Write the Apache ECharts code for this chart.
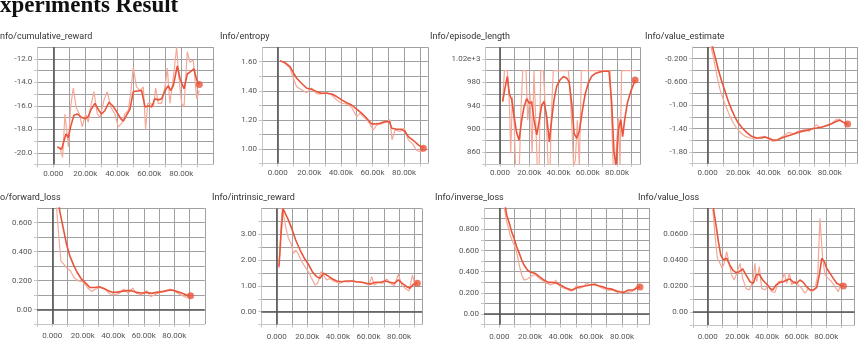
<!DOCTYPE html>
<html><head><meta charset="utf-8">
<script src="https://cdn.jsdelivr.net/npm/echarts@6/dist/echarts.min.js"></script>
<style>html,body{margin:0;padding:0;background:#fff}#c{width:863px;height:350px}</style>
</head><body><div id="c"></div>
<script>
// steps are in thousands
const rewardSmooth = [[2.5,-19.5],[5.2,-19.7],[7.9,-18.4],[9.4,-18.7],[10.8,-17.8],[12.9,-16.8],[15,-16.7],[17.7,-17.0],[20.2,-17.1],[21.9,-16.9],[23.3,-16.4],[26,-15.8],[28.5,-16.4],[30.2,-16.7],[32.3,-16.4],[34.8,-15.7],[37.1,-16.0],[39.6,-16.5],[42.1,-17.1],[43.8,-17.3],[45.8,-16.8],[47.9,-16.3],[50,-14.8],[52.5,-14.75],[55.2,-14.7],[57.3,-16.1],[59.8,-16.0],[61.5,-16.1],[63.5,-15.4],[65.6,-15.5],[67.7,-15.4],[69.8,-14.7],[71.9,-14.3],[73.3,-14.7],[75,-14.3],[77.5,-12.6],[79.2,-13.7],[81.7,-14.55],[83.75,-13.3],[85.8,-13.1],[87.9,-12.85],[89.6,-13.8],[91.25,-14.2]];
const rewardRaw = [[2.5,-19.5],[4.2,-19.6],[5.8,-20.4],[7.3,-16.7],[9.4,-19.5],[10.8,-16.1],[12.5,-14.5],[14.2,-16.1],[16.3,-16.7],[18.1,-17.8],[20.2,-16.7],[21.9,-17.4],[23.3,-16.1],[25.4,-14.8],[27.5,-16.7],[29.2,-17.0],[31.7,-15.5],[33.75,-14.8],[35.8,-16.1],[38.5,-16.7],[40.6,-17.8],[42.7,-17.5],[44.8,-16.7],[46.9,-16.4],[48.3,-15.0],[50,-12.7],[52,-14.4],[54.2,-14.7],[56.25,-14.4],[57.7,-18.0],[59,-15.8],[60.8,-15.8],[62.5,-16.1],[64,-14.5],[65.6,-15.8],[67.7,-15.8],[69.8,-14.4],[71.25,-12.8],[72.9,-15.8],[75,-13.6],[77.1,-11.0],[78.5,-13.6],[80.2,-15.8],[81.7,-16.1],[83.75,-11.4],[85.4,-12.3],[87.5,-12.1],[89.6,-15.4],[91.25,-14.7]];

const entropySmooth = [[1.5,1.607],[4.6,1.593],[7.8,1.566],[9.9,1.524],[12,1.486],[15.2,1.45],[18.4,1.417],[21.5,1.41],[24.7,1.394],[27.8,1.383],[31,1.383],[34.2,1.378],[37.3,1.36],[40.5,1.337],[43.7,1.318],[46.8,1.302],[50,1.273],[53.2,1.245],[56.3,1.211],[59.5,1.172],[61.6,1.172],[64.8,1.177],[67.9,1.188],[70.7,1.188],[72.2,1.142],[75.3,1.135],[78.5,1.135],[80.6,1.12],[82.7,1.085],[85.9,1.058],[89,1.028],[92.2,1.005]];
const entropyRaw = [[1.5,1.607],[4.6,1.589],[7.8,1.554],[9.9,1.486],[12,1.428],[15.2,1.405],[18.4,1.387],[21.5,1.417],[24.7,1.378],[27.8,1.378],[31,1.387],[34.2,1.371],[37.3,1.337],[40.5,1.314],[43.7,1.309],[46.8,1.286],[50,1.222],[52.1,1.245],[54.2,1.222],[57.4,1.188],[60.5,1.131],[62.7,1.165],[65.8,1.172],[69,1.188],[71.1,1.2],[72.4,1.062],[74.3,1.131],[77.4,1.12],[80,1.142],[82.7,1.062],[85.4,1.035],[88,0.989],[90,0.982],[92.2,0.989]];

const lengthSmooth = [[1.8,947],[3.4,970],[5,990],[6.4,960],[8,950],[9.6,921],[11.4,893],[13,881],[14.8,915],[16.4,938],[18.2,952],[20,944],[21.6,947],[23.2,916],[25.1,890],[26.9,916],[28.5,941],[30.1,947],[31.9,921],[33.7,878],[35.3,916],[36.9,950],[38.7,973],[41,984],[43.3,990],[45.6,987],[47.2,981],[49,944],[50.6,893],[52.4,884],[54.2,896],[56,927],[58.1,959],[60.4,979],[62.6,990],[64.9,995],[67.2,997],[70.6,999],[74.5,999],[76.3,945],[77.9,859],[79.3,836],[80.9,899],[82.5,916],[83.8,887],[85.2,916],[87,944],[89.3,964],[92.3,984]];
const lengthRaw = [[1.8,947],[3,1000],[5,1000],[6.4,944],[7.3,858],[8.4,955],[9.6,915],[10.7,830],[11.8,835],[13.2,835],[14.4,938],[15.5,1000],[17.8,1000],[18.9,915],[20.5,961],[21.9,858],[23.2,1000],[24.4,915],[25.5,830],[26.7,835],[27.8,1000],[29.6,1000],[30.8,944],[31.9,898],[33,830],[34.2,835],[35.3,938],[36.4,1000],[46.7,1000],[47.8,967],[49.2,898],[50.3,835],[51.5,847],[52.8,915],[54.2,835],[55.6,1000],[75.2,1000],[76.3,915],[77.4,830],[78.6,835],[79.7,835],[80.9,921],[82,835],[83.1,1000],[92.3,1000]];

const valueEstSmooth = [[1.5,0.126],[3.1,0.011],[4.8,-0.16],[7,-0.389],[9.2,-0.589],[11.4,-0.76],[13.5,-0.931],[15.7,-1.074],[17.9,-1.2],[20.1,-1.303],[22.7,-1.389],[25.5,-1.463],[28.8,-1.531],[32.1,-1.56],[35.4,-1.56],[37.6,-1.543],[39.7,-1.56],[42.4,-1.589],[45.2,-1.6],[48.5,-1.56],[51.7,-1.531],[55,-1.503],[58.3,-1.474],[61.6,-1.446],[64.8,-1.429],[68.1,-1.406],[71.4,-1.389],[74.7,-1.371],[77.9,-1.349],[81.2,-1.314],[84.5,-1.274],[86.7,-1.257],[88.9,-1.291],[91.7,-1.32]];
const valueEstRaw = [[1.5,0.069],[3.7,-0.16],[5.9,-0.474],[8.1,-0.731],[10.3,-0.903],[12.4,-1.046],[14.6,-1.189],[16.8,-1.303],[19,-1.389],[21.8,-1.474],[24.5,-1.531],[27.7,-1.56],[31,-1.577],[34.3,-1.543],[37.1,-1.531],[39.7,-1.577],[42.4,-1.617],[45.2,-1.6],[48.5,-1.543],[51.1,-1.503],[53.3,-1.463],[56.1,-1.486],[59,-1.446],[61.6,-1.429],[64.2,-1.417],[66.4,-1.446],[69.2,-1.389],[71.4,-1.331],[73.6,-1.389],[76.4,-1.36],[79,-1.331],[81.7,-1.303],[84.1,-1.246],[86,-1.234],[88.2,-1.274],[91,-1.331]];

const fwdSmooth = [[3.3,0.8],[5,0.675],[7.2,0.561],[9.4,0.448],[11.6,0.368],[13.8,0.311],[16.4,0.255],[19.2,0.209],[22.1,0.18],[24.7,0.152],[28,0.152],[30.8,0.157],[33.9,0.145],[36.7,0.13],[40,0.118],[42.6,0.12],[45.5,0.125],[48.7,0.13],[52,0.13],[55.3,0.118],[58.6,0.114],[61.9,0.118],[65.1,0.111],[68.4,0.118],[71.7,0.123],[75,0.13],[78.3,0.134],[81.5,0.125],[84.8,0.114],[87.7,0.102],[90.7,0.095]];
const fwdRaw = [[2.8,0.709],[4.2,0.516],[5.7,0.334],[7.7,0.311],[9.8,0.284],[12,0.266],[14.2,0.22],[17,0.198],[19.9,0.193],[23,0.152],[25.8,0.125],[28.6,0.141],[31.3,0.152],[34.5,0.141],[37.8,0.107],[41.1,0.102],[43.9,0.111],[47,0.141],[49.8,0.111],[52.7,0.148],[55.3,0.111],[58.6,0.102],[61.9,0.13],[64.5,0.089],[67.3,0.102],[70.6,0.118],[73.9,0.125],[77.2,0.141],[79.8,0.13],[82.6,0.111],[85.5,0.095],[88.1,0.084],[90.7,0.102]];

const intrSmooth = [[1.5,1.75],[2.8,2.98],[4.1,4.0],[5.4,3.95],[7.6,3.56],[9.8,3.23],[12.4,2.78],[15.3,2.39],[18.1,2.07],[20.7,1.84],[23.3,1.55],[26.1,1.36],[28.3,1.29],[30.5,1.49],[32.7,1.42],[35.9,1.29],[39.2,1.19],[42.5,1.16],[45.8,1.19],[49,1.19],[52.3,1.16],[55.6,1.14],[58.8,1.1],[61.4,1.07],[64.3,1.14],[67.5,1.13],[70.8,1.19],[74.1,1.14],[76.9,1.1],[79.5,1.23],[82.1,1.1],[85,0.97],[87.1,0.91],[89.3,1.06],[91.9,1.1]];
const intrRaw = [[1.5,1.68],[2.8,3.36],[3.7,4.01],[4.8,4.07],[6.1,3.23],[7.6,2.85],[9.4,2.65],[10.9,2.26],[12.4,2.39],[14.2,2.23],[16.3,1.94],[18.5,1.75],[20.7,1.55],[22.9,1.29],[25.1,1.03],[26.8,1.1],[29,1.55],[30.5,1.42],[32.7,1.23],[34.9,1.29],[37,1.19],[39.2,1.14],[41.4,1.1],[44.2,1.19],[46.8,1.14],[49.5,1.22],[52.3,1.14],[55.1,1.16],[57.7,1.1],[60.3,1.03],[62.1,1.36],[63.8,1.03],[66.4,1.16],[69.1,1.1],[71.9,1.27],[74.1,1.1],[76.9,1.01],[79.5,1.45],[81.7,1.03],[83.9,0.91],[86.5,0.8],[88.7,1.42],[90.4,1.03],[91.9,1.16]];

const invSmooth = [[3.5,1.05],[4.8,0.935],[6.5,0.857],[8,0.778],[9.6,0.715],[11.3,0.636],[13,0.573],[14.6,0.51],[16.1,0.463],[18.3,0.416],[20.4,0.394],[23.3,0.384],[26.1,0.353],[29.1,0.321],[32,0.299],[35.2,0.299],[37.8,0.29],[40.7,0.268],[43.9,0.243],[47.2,0.227],[50,0.243],[52.6,0.258],[55.9,0.265],[59.1,0.274],[61.7,0.28],[64.6,0.268],[67.4,0.258],[70,0.243],[73.3,0.236],[76.5,0.217],[78.7,0.211],[81.3,0.205],[84.1,0.227],[87.4,0.227],[90,0.249],[91.7,0.255]];
const invRaw = [[3.3,1.0],[4.3,0.904],[5.4,0.841],[7,0.746],[8.7,0.683],[10.2,0.636],[11.7,0.557],[13,0.463],[14.6,0.369],[16.1,0.321],[18.3,0.331],[20.4,0.353],[22.2,0.369],[23.9,0.369],[26.1,0.337],[28.7,0.312],[31.3,0.29],[33.5,0.274],[35.7,0.29],[36.7,0.321],[38.5,0.274],[41.3,0.249],[43.9,0.236],[46.5,0.217],[48.7,0.227],[50.4,0.274],[52.2,0.243],[54.8,0.258],[57,0.29],[59.6,0.274],[62.4,0.29],[65.2,0.258],[67.8,0.243],[70.4,0.227],[73.3,0.227],[76.1,0.211],[78.7,0.195],[81.3,0.211],[84.1,0.205],[87,0.217],[89.6,0.258],[91.7,0.28]];

const vlossSmooth = [[3.8,0.08],[5.6,0.0669],[7.2,0.0541],[8.8,0.0438],[10.6,0.04],[12.8,0.0413],[14.6,0.0367],[16.9,0.0323],[19.1,0.0303],[21.3,0.031],[23.6,0.0331],[25.8,0.0285],[28.5,0.0233],[30.8,0.0221],[32.6,0.0285],[34.8,0.029],[37.1,0.0246],[39.8,0.0213],[42,0.0182],[43.8,0.0169],[46.1,0.0208],[48.8,0.0228],[51,0.0233],[53.3,0.0246],[55.5,0.0254],[57.8,0.0228],[60,0.0221],[62.2,0.0246],[64.5,0.0228],[66.7,0.0195],[69,0.0169],[71.2,0.0169],[73.5,0.0187],[75.3,0.0285],[76.9,0.0413],[78.7,0.0387],[80.2,0.0336],[82.5,0.0297],[84.7,0.0259],[87,0.0221],[89.2,0.0208],[91.5,0.02]];
const vlossRaw = [[3.4,0.08],[4.9,0.0592],[6.5,0.0413],[8.3,0.0374],[9.7,0.0336],[11,0.0374],[12.8,0.0464],[14.2,0.0387],[16.2,0.0285],[17.8,0.0246],[19.6,0.0297],[21.8,0.0374],[23.6,0.0259],[25.8,0.0182],[28.1,0.0169],[30.3,0.0233],[31.9,0.0374],[33,0.0233],[34.8,0.0349],[36.4,0.0182],[38.7,0.0169],[40.9,0.0208],[43.1,0.0156],[45.4,0.0151],[47.6,0.0233],[49.9,0.0238],[51.7,0.0297],[53.3,0.0221],[55.1,0.0297],[56.6,0.0208],[58.9,0.0238],[61.1,0.0208],[63.4,0.0182],[65.6,0.0144],[67.9,0.0182],[70.1,0.0156],[72.4,0.0182],[74.2,0.0285],[75.7,0.0721],[77.5,0.0413],[79.1,0.0285],[81.3,0.0259],[83.6,0.0233],[85.8,0.0195],[88.1,0.0156],[89.7,0.0221],[91.5,0.0208]];

const mainTitle = 'xperiments Result';
const panelTitles = ['nfo/cumulative_reward','Info/entropy','Info/episode_length','Info/value_estimate','o/forward_loss','Info/intrinsic_reward','Info/inverse_loss','Info/value_loss'];

// ---- formatters ----
const fmtReward = v => (Math.round(v) % 2 === 0) ? v.toFixed(1) : '';
const fmtEntropy = v => (Math.round(v*10) % 2 === 0) ? v.toFixed(2) : '';
const fmtLength = v => { const r = Math.round(v); if ((r-860) % 40 !== 0) return ''; return r >= 1000 ? (r/1000).toFixed(2)+'e+3' : String(r); };
const fmtValEst = v => { const r = Math.round(v*10); if ((r+2) % 4 !== 0) return ''; return Math.abs(v) < 1 ? v.toFixed(3) : v.toFixed(2); };
const fmtFwd = v => { const r = Math.round(v*10); if (r < 0 || r % 2 !== 0) return ''; return r === 0 ? '0.00' : v.toFixed(3); };
const fmtIntr = v => { const r = Math.round(v*2); if (r < 0 || r >= 8 || r % 2 !== 0) return ''; return v.toFixed(2); };
const fmtInv = v => { const r = Math.round(v*10); if (r < 0 || r >= 10 || r % 2 !== 0) return ''; return r === 0 ? '0.00' : v.toFixed(3); };
const fmtVloss = v => { const r = Math.round(v*100); if (r < 0 || r >= 8 || r % 2 !== 0) return ''; return r === 0 ? '0.00' : v.toFixed(4); };
const fmtX = v => { if (v < 0 || v >= 100) return ''; const r = Math.round(v); if (r % 20 !== 0) return ''; return r === 0 ? '0.000' : r.toFixed(2) + 'k'; };

const panels = [
  {tx:0,   ty:32,  left:37.3,  top:47,    width:176,   height:117.5, xMax:100, yMin:-21,  yMax:-11,  yInt:1,    fmt:fmtReward, s:rewardSmooth,  r:rewardRaw,  zy:false, xm:5},
  {tx:220, ty:32,  left:261.9, top:47.1,  width:165.9, height:116.4, xMax:95,  yMin:0.9,  yMax:1.7,  yInt:0.1,  fmt:fmtEntropy,s:entropySmooth, r:entropyRaw, zy:false, xm:5},
  {tx:430, ty:32,  left:485.4, top:47.3,  width:155.1, height:116.7, xMax:96,  yMin:840,  yMax:1040, yInt:20,   fmt:fmtLength, s:lengthSmooth,  r:lengthRaw,  zy:false, xm:5},
  {tx:645, ty:32,  left:692.4, top:47,    width:164.8, height:116.7, xMax:98,  yMin:-2,   yMax:0,    yInt:0.2,  fmt:fmtValEst, s:valueEstSmooth,r:valueEstRaw,zy:false, xm:5},
  {tx:0,   ty:193, left:37,    top:208,   width:167.75,height:116,   xMax:100, yMin:-0.1, yMax:0.7,  yInt:0.1,  fmt:fmtFwd,    s:fwdSmooth,     r:fwdRaw,     zy:true,  xm:8},
  {tx:212, ty:193, left:261.4, top:208.5, width:160.65,height:116.1, xMax:95,  yMin:-0.5, yMax:4,    yInt:0.5,  fmt:fmtIntr,   s:intrSmooth,    r:intrRaw,    zy:true,  xm:8},
  {tx:435, ty:193, left:484,   top:208.1, width:165.6, height:116.6, xMax:98,  yMin:-0.1, yMax:1.0,  yInt:0.1,  fmt:fmtInv,    s:invSmooth,     r:invRaw,     zy:true,  xm:8},
  {tx:638, ty:193, left:692.9, top:208,   width:161.6, height:117,   xMax:99,  yMin:-0.01,yMax:0.08, yInt:0.01, fmt:fmtVloss,  s:vlossSmooth,   r:vlossRaw,   zy:true,  xm:8}
];

const LINE = '#e8553b', RAW = '#f5a898', GRIDC = '#a0a0a0', ZERO = '#555', AXC = '#c4c4c4';
const labelFont = {fontFamily:'Roboto', fontSize:8, color:'#555'};

const option = {animation:false, title:[], grid:[], xAxis:[], yAxis:[], series:[]};
option.title.push({text:mainTitle, left:0, top:-5, padding:0,
  textStyle:{fontFamily:'Liberation Serif', fontWeight:'bold', fontSize:23, color:'#111'}});

panels.forEach((p, i) => {
  option.title.push({text:panelTitles[i], left:p.tx, top:p.ty, padding:0,
    textStyle:{fontFamily:'Roboto', fontSize:9, fontWeight:'normal', color:'#333'}});
  option.grid.push({left:p.left, top:p.top, width:p.width, height:p.height, containLabel:false});
  option.xAxis.push({type:'value', gridIndex:i, min:-10, max:p.xMax, interval:10,
    axisLine:{show:true, onZero:false, lineStyle:{color:AXC}},
    axisTick:{show:true, length:3, lineStyle:{color:AXC}},
    axisLabel:Object.assign({formatter:fmtX, margin:p.xm, showMaxLabel:false}, labelFont),
    splitLine:{show:true, lineStyle:{color:GRIDC, width:1}}});
  option.yAxis.push({type:'value', gridIndex:i, min:p.yMin, max:p.yMax, interval:p.yInt,
    axisLine:{show:true, onZero:false, lineStyle:{color:AXC}},
    axisTick:{show:true, length:3, lineStyle:{color:AXC}},
    axisLabel:Object.assign({formatter:p.fmt, margin:5, showMaxLabel:false, showMinLabel:true}, labelFont),
    splitLine:{show:true, lineStyle:{color:GRIDC, width:1}}});
  const zl = [{xAxis:0}];
  if (p.zy) zl.push({yAxis:0});
  option.series.push({type:'line', xAxisIndex:i, yAxisIndex:i, data:p.r, showSymbol:false, symbol:'none',
    lineStyle:{color:RAW, width:1.2}, z:2, clip:true,
    markLine:{silent:true, symbol:'none', label:{show:false}, lineStyle:{color:ZERO, width:1.6, type:'solid'}, data:zl}});
  option.series.push({type:'line', xAxisIndex:i, yAxisIndex:i, data:p.s, showSymbol:false, symbol:'none',
    lineStyle:{color:LINE, width:1.6}, z:3, clip:true});
  option.series.push({type:'scatter', xAxisIndex:i, yAxisIndex:i, data:[p.s[p.s.length-1]],
    symbolSize:7, itemStyle:{color:LINE}, z:4});
});

const chart = echarts.init(document.getElementById('c'), null, {renderer:'canvas'});
chart.setOption(option);
</script>
</body></html>
